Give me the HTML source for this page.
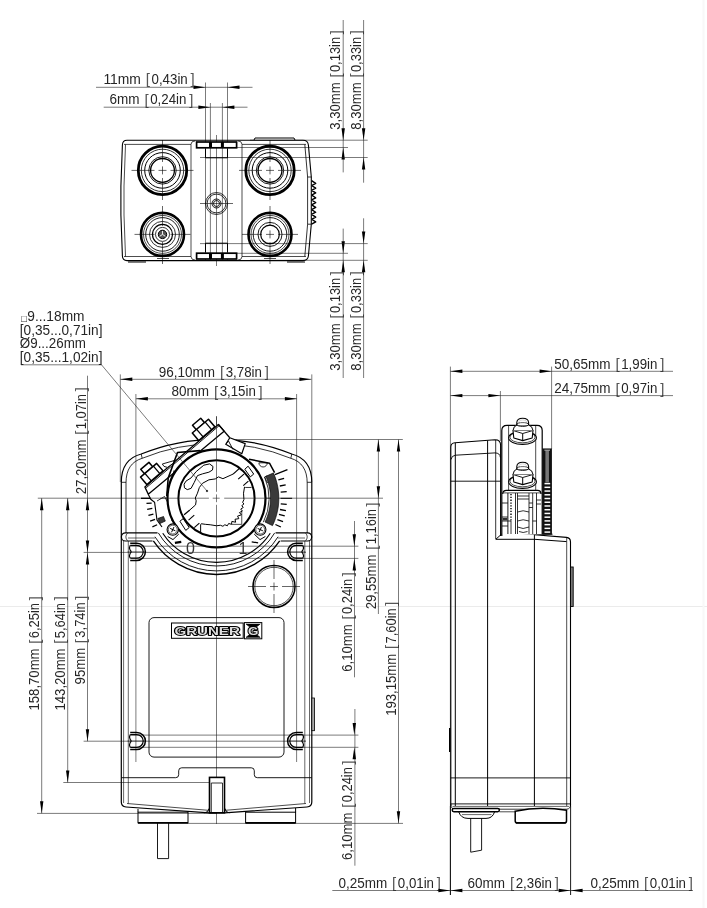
<!DOCTYPE html>
<html lang="en">
<head>
<meta charset="utf-8">
<title>Dimensional drawing</title>
<style>
html,body{margin:0;padding:0;background:#fff;}
body{width:707px;height:908px;overflow:hidden;}
svg{display:block;font-family:"Liberation Sans",Arial,sans-serif;filter:grayscale(1);}
svg line, svg path, svg circle, svg rect, svg ellipse{stroke-linecap:butt;}
</style>
</head>
<body>
<svg width="707" height="908" viewBox="0 0 707 908">
<rect x="0" y="0" width="707" height="908" fill="#fff"/>
<line x1="0" y1="606.5" x2="707" y2="606.5" stroke="#ebebeb" stroke-width="1"/>
<line x1="703.5" y1="0" x2="703.5" y2="908" stroke="#f8f8f8" stroke-width="2"/>
<g transform="translate(103.40 83.70)" font-size="14"><text x="0" y="0" fill="#262626" textLength="37.53" lengthAdjust="spacingAndGlyphs">11mm</text><text x="42.43" y="0.6" fill="#555" font-size="15">[</text><text x="48.13" y="0" fill="#262626" textLength="36.23" lengthAdjust="spacingAndGlyphs">0,43in</text><text x="87.06" y="0.6" fill="#555" font-size="15">]</text></g>
<line x1="96.00" y1="87.30" x2="252.50" y2="87.30" stroke="#222" stroke-width="0.6" />
<polygon points="205.50,87.30 193.50,85.60 193.50,89.00" fill="#000"/>
<polygon points="227.50,87.30 239.50,85.60 239.50,89.00" fill="#000"/>
<g transform="translate(109.60 103.90)" font-size="14"><text x="0" y="0" fill="#262626" textLength="30.02" lengthAdjust="spacingAndGlyphs">6mm</text><text x="34.92" y="0.6" fill="#555" font-size="15">[</text><text x="40.62" y="0" fill="#262626" textLength="36.23" lengthAdjust="spacingAndGlyphs">0,24in</text><text x="79.55" y="0.6" fill="#555" font-size="15">]</text></g>
<line x1="103.70" y1="107.20" x2="247.50" y2="107.20" stroke="#222" stroke-width="0.6" />
<polygon points="210.40,107.20 198.40,105.50 198.40,108.90" fill="#000"/>
<polygon points="222.40,107.20 234.40,105.50 234.40,108.90" fill="#000"/>
<line x1="205.50" y1="82.50" x2="205.50" y2="260.00" stroke="#222" stroke-width="0.6" />
<line x1="227.50" y1="82.50" x2="227.50" y2="260.00" stroke="#222" stroke-width="0.6" />
<line x1="210.40" y1="103.00" x2="210.40" y2="260.00" stroke="#222" stroke-width="0.6" />
<line x1="222.40" y1="103.00" x2="222.40" y2="260.00" stroke="#222" stroke-width="0.6" />
<line x1="216.50" y1="135.00" x2="216.50" y2="266.00" stroke="#222" stroke-width="0.6" />
<g transform="translate(340.20 129.80) rotate(-90)" font-size="14"><text x="0" y="0" fill="#262626" textLength="47.43" lengthAdjust="spacingAndGlyphs">3,30mm</text><text x="52.19" y="0.6" fill="#555" font-size="15">[</text><text x="57.73" y="0" fill="#262626" textLength="35.21" lengthAdjust="spacingAndGlyphs">0,13in</text><text x="95.57" y="0.6" fill="#555" font-size="15">]</text></g>
<g transform="translate(360.70 129.80) rotate(-90)" font-size="14"><text x="0" y="0" fill="#262626" textLength="47.43" lengthAdjust="spacingAndGlyphs">8,30mm</text><text x="52.19" y="0.6" fill="#555" font-size="15">[</text><text x="57.73" y="0" fill="#262626" textLength="35.21" lengthAdjust="spacingAndGlyphs">0,33in</text><text x="95.57" y="0.6" fill="#555" font-size="15">]</text></g>
<g transform="translate(340.30 370.80) rotate(-90)" font-size="14"><text x="0" y="0" fill="#262626" textLength="47.43" lengthAdjust="spacingAndGlyphs">3,30mm</text><text x="52.19" y="0.6" fill="#555" font-size="15">[</text><text x="57.73" y="0" fill="#262626" textLength="35.21" lengthAdjust="spacingAndGlyphs">0,13in</text><text x="95.57" y="0.6" fill="#555" font-size="15">]</text></g>
<g transform="translate(360.80 370.80) rotate(-90)" font-size="14"><text x="0" y="0" fill="#262626" textLength="47.43" lengthAdjust="spacingAndGlyphs">8,30mm</text><text x="52.19" y="0.6" fill="#555" font-size="15">[</text><text x="57.73" y="0" fill="#262626" textLength="35.21" lengthAdjust="spacingAndGlyphs">0,33in</text><text x="95.57" y="0.6" fill="#555" font-size="15">]</text></g>
<line x1="343.20" y1="20.00" x2="343.20" y2="172.40" stroke="#222" stroke-width="0.6" />
<line x1="363.60" y1="20.00" x2="363.60" y2="182.70" stroke="#222" stroke-width="0.6" />
<line x1="343.20" y1="228.60" x2="343.20" y2="378.00" stroke="#222" stroke-width="0.6" />
<line x1="363.60" y1="218.30" x2="363.60" y2="378.00" stroke="#222" stroke-width="0.6" />
<polygon points="343.20,140.20 341.50,128.20 344.90,128.20" fill="#000"/>
<polygon points="343.20,147.50 341.50,159.50 344.90,159.50" fill="#000"/>
<polygon points="363.60,140.20 361.90,128.20 365.30,128.20" fill="#000"/>
<polygon points="363.60,157.50 361.90,169.50 365.30,169.50" fill="#000"/>
<polygon points="343.20,253.30 341.50,241.30 344.90,241.30" fill="#000"/>
<polygon points="343.20,260.30 341.50,272.30 344.90,272.30" fill="#000"/>
<polygon points="363.60,243.60 361.90,231.60 365.30,231.60" fill="#000"/>
<polygon points="363.60,260.30 361.90,272.30 365.30,272.30" fill="#000"/>
<line x1="250.00" y1="140.20" x2="367.70" y2="140.20" stroke="#222" stroke-width="0.6" />
<line x1="200.00" y1="147.50" x2="348.00" y2="147.50" stroke="#222" stroke-width="0.6" />
<line x1="200.00" y1="157.50" x2="367.70" y2="157.50" stroke="#222" stroke-width="0.6" />
<line x1="200.00" y1="243.60" x2="367.70" y2="243.60" stroke="#222" stroke-width="0.6" />
<line x1="200.00" y1="253.30" x2="348.00" y2="253.30" stroke="#222" stroke-width="0.6" />
<line x1="250.00" y1="260.30" x2="367.70" y2="260.30" stroke="#222" stroke-width="0.6" />
<path d="M127,140.3 L303,140.3 Q307.8,140.3 308.4,145 L311.3,177 L311.3,224.2 L308.4,256 Q307.8,260.6 303,260.6 L127,260.6 Q122.6,260.6 122.4,256 L120.9,215 L120.9,186 L122.4,145 Q122.6,140.3 127,140.3 Z" fill="none" stroke="#000" stroke-width="1.1" />
<path d="M125.5,144.5 L124,186 L124,215 L125.5,256.5" fill="none" stroke="#000" stroke-width="0.7" />
<path d="M304.8,144.5 L307.6,177 L307.6,224.2 L304.8,256.5" fill="none" stroke="#000" stroke-width="0.8" />
<line x1="307.60" y1="177.00" x2="311.30" y2="177.00" stroke="#000" stroke-width="0.8" />
<line x1="307.60" y1="224.20" x2="311.30" y2="224.20" stroke="#000" stroke-width="0.8" />
<line x1="124.00" y1="144.40" x2="191.00" y2="144.40" stroke="#000" stroke-width="0.7" />
<line x1="242.00" y1="144.40" x2="306.00" y2="144.40" stroke="#000" stroke-width="0.7" />
<line x1="124.00" y1="256.50" x2="191.00" y2="256.50" stroke="#000" stroke-width="0.7" />
<line x1="242.00" y1="256.50" x2="306.00" y2="256.50" stroke="#000" stroke-width="0.7" />
<line x1="191.00" y1="144.40" x2="191.00" y2="256.50" stroke="#000" stroke-width="0.7" />
<line x1="242.00" y1="144.40" x2="242.00" y2="256.50" stroke="#000" stroke-width="0.7" />
<path d="M191,144.4 Q191,141 195,141 M242,144.4 Q242,141 238,141 M191,256.5 Q191,260 195,260 M242,256.5 Q242,260 238,260" fill="none" stroke="#000" stroke-width="0.7" />
<path d="M254,140 L255,138 L294,138 L295,140" fill="none" stroke="#000" stroke-width="1.0" />
<line x1="128.00" y1="262.00" x2="146.00" y2="262.00" stroke="#000" stroke-width="1.0" />
<line x1="287.00" y1="262.00" x2="305.00" y2="262.00" stroke="#000" stroke-width="1.0" />
<line x1="157.00" y1="258.50" x2="169.00" y2="258.50" stroke="#000" stroke-width="0.7" />
<line x1="264.00" y1="258.50" x2="276.00" y2="258.50" stroke="#000" stroke-width="0.7" />
<circle cx="162.50" cy="170.40" r="24.20" fill="none" stroke="#000" stroke-width="2.8"/>
<circle cx="162.50" cy="170.40" r="21.20" fill="none" stroke="#000" stroke-width="0.8"/>
<circle cx="162.50" cy="170.40" r="17.80" fill="none" stroke="#000" stroke-width="1.0"/>
<circle cx="162.50" cy="170.40" r="13.70" fill="none" stroke="#000" stroke-width="0.9"/>
<circle cx="162.50" cy="170.40" r="11.90" fill="none" stroke="#000" stroke-width="1.3"/>
<line x1="131.50" y1="170.40" x2="154.50" y2="170.40" stroke="#000" stroke-width="0.6" />
<line x1="170.50" y1="170.40" x2="193.50" y2="170.40" stroke="#000" stroke-width="0.6" />
<line x1="158.50" y1="170.40" x2="166.50" y2="170.40" stroke="#000" stroke-width="0.6" />
<line x1="162.50" y1="140.00" x2="162.50" y2="162.00" stroke="#000" stroke-width="0.6" />
<line x1="162.50" y1="166.40" x2="162.50" y2="174.40" stroke="#000" stroke-width="0.6" />
<line x1="162.50" y1="178.00" x2="162.50" y2="200.00" stroke="#000" stroke-width="0.6" />
<circle cx="270.00" cy="170.40" r="24.20" fill="none" stroke="#000" stroke-width="2.8"/>
<circle cx="270.00" cy="170.40" r="21.20" fill="none" stroke="#000" stroke-width="0.8"/>
<circle cx="270.00" cy="170.40" r="17.80" fill="none" stroke="#000" stroke-width="1.0"/>
<circle cx="270.00" cy="170.40" r="13.70" fill="none" stroke="#000" stroke-width="0.9"/>
<circle cx="270.00" cy="170.40" r="11.90" fill="none" stroke="#000" stroke-width="1.3"/>
<line x1="239.00" y1="170.40" x2="262.00" y2="170.40" stroke="#000" stroke-width="0.6" />
<line x1="278.00" y1="170.40" x2="301.00" y2="170.40" stroke="#000" stroke-width="0.6" />
<line x1="266.00" y1="170.40" x2="274.00" y2="170.40" stroke="#000" stroke-width="0.6" />
<line x1="270.00" y1="140.00" x2="270.00" y2="162.00" stroke="#000" stroke-width="0.6" />
<line x1="270.00" y1="166.40" x2="270.00" y2="174.40" stroke="#000" stroke-width="0.6" />
<line x1="270.00" y1="178.00" x2="270.00" y2="200.00" stroke="#000" stroke-width="0.6" />
<circle cx="162.50" cy="234.40" r="21.50" fill="none" stroke="#000" stroke-width="2.6"/>
<circle cx="162.50" cy="234.40" r="19.00" fill="none" stroke="#000" stroke-width="0.7"/>
<circle cx="162.50" cy="234.40" r="16.80" fill="none" stroke="#000" stroke-width="0.9"/>
<line x1="134.50" y1="234.40" x2="154.50" y2="234.40" stroke="#000" stroke-width="0.6" />
<line x1="170.50" y1="234.40" x2="190.50" y2="234.40" stroke="#000" stroke-width="0.6" />
<line x1="162.50" y1="206.00" x2="162.50" y2="226.00" stroke="#000" stroke-width="0.6" />
<line x1="162.50" y1="242.00" x2="162.50" y2="264.00" stroke="#000" stroke-width="0.6" />
<circle cx="270.00" cy="234.40" r="21.50" fill="none" stroke="#000" stroke-width="2.6"/>
<circle cx="270.00" cy="234.40" r="19.00" fill="none" stroke="#000" stroke-width="0.7"/>
<circle cx="270.00" cy="234.40" r="16.80" fill="none" stroke="#000" stroke-width="0.9"/>
<line x1="242.00" y1="234.40" x2="262.00" y2="234.40" stroke="#000" stroke-width="0.6" />
<line x1="278.00" y1="234.40" x2="298.00" y2="234.40" stroke="#000" stroke-width="0.6" />
<line x1="270.00" y1="206.00" x2="270.00" y2="226.00" stroke="#000" stroke-width="0.6" />
<line x1="270.00" y1="242.00" x2="270.00" y2="264.00" stroke="#000" stroke-width="0.6" />
<circle cx="162.50" cy="234.40" r="13.00" fill="none" stroke="#000" stroke-width="0.8"/>
<circle cx="162.50" cy="234.40" r="10.00" fill="none" stroke="#000" stroke-width="1.2"/>
<circle cx="162.50" cy="234.40" r="7.00" fill="none" stroke="#000" stroke-width="0.8"/>
<circle cx="162.50" cy="234.40" r="4.20" fill="#555" stroke="#000" stroke-width="1.0"/>
<path d="M162.5,234.4 L162.5,231 M162.5,234.4 L165.3,236.3 M162.5,234.4 L159.7,236.3" fill="none" stroke="#fff" stroke-width="0.9" />
<circle cx="270.00" cy="234.40" r="12.00" fill="none" stroke="#000" stroke-width="0.9"/>
<circle cx="270.00" cy="234.40" r="9.30" fill="none" stroke="#000" stroke-width="1.2"/>
<line x1="266.00" y1="234.40" x2="274.00" y2="234.40" stroke="#000" stroke-width="0.6" />
<line x1="270.00" y1="230.40" x2="270.00" y2="238.40" stroke="#000" stroke-width="0.6" />
<circle cx="216.50" cy="203.50" r="11.00" fill="none" stroke="#000" stroke-width="0.8"/>
<circle cx="216.50" cy="203.50" r="9.40" fill="none" stroke="#000" stroke-width="0.8"/>
<circle cx="216.50" cy="203.50" r="4.50" fill="none" stroke="#000" stroke-width="0.9"/>
<circle cx="216.50" cy="203.50" r="3.00" fill="none" stroke="#000" stroke-width="0.9"/>
<line x1="200.00" y1="203.50" x2="233.00" y2="203.50" stroke="#000" stroke-width="0.6" />
<rect x="196.60" y="142.00" width="40.00" height="5.80" rx="0" fill="#fff" stroke="#000" stroke-width="1.7"/>
<rect x="209.0" y="142.0" width="3" height="5.80" fill="#000"/>
<rect x="220.9" y="142.0" width="3" height="5.80" fill="#000"/>
<path d="M205.5,148.6 L205.5,157.8 L227.5,157.8 L227.5,148.6" fill="none" stroke="#000" stroke-width="1.0" />
<rect x="196.60" y="253.20" width="40.00" height="5.80" rx="0" fill="#fff" stroke="#000" stroke-width="1.7"/>
<rect x="209.0" y="253.2" width="3" height="5.80" fill="#000"/>
<rect x="220.9" y="253.2" width="3" height="5.80" fill="#000"/>
<path d="M205.5,252.4 L205.5,243.2 L227.5,243.2 L227.5,252.4" fill="none" stroke="#000" stroke-width="1.0" />
<path d="M311.6,180.70 L315.7,183.30 L311.6,185.52 M311.6,185.52 L315.7,188.12 L311.6,190.34 M311.6,190.34 L315.7,192.94 L311.6,195.16 M311.6,195.16 L315.7,197.76 L311.6,199.98 M311.6,199.98 L315.7,202.58 L311.6,204.80 M311.6,204.80 L315.7,207.40 L311.6,209.62 M311.6,209.62 L315.7,212.22 L311.6,214.44 M311.6,214.44 L315.7,217.04 L311.6,219.26 M311.6,219.26 L315.7,221.86 L311.6,224.08 " fill="none" stroke="#000" stroke-width="1.4" stroke-linejoin="round"/>
<text x="20.4" y="320.9" font-size="7.6" fill="#333" font-family="DejaVu Sans, sans-serif">□</text>
<text x="27.3" y="320.7" font-size="14" fill="#262626" textLength="57.2" lengthAdjust="spacingAndGlyphs">9...18mm</text>
<text x="19.8" y="334.8" font-size="14" fill="#262626" textLength="82.7" lengthAdjust="spacingAndGlyphs">[0,35...0,71in]</text>
<text x="19.8" y="348.4" font-size="14" fill="#262626" textLength="66.2" lengthAdjust="spacingAndGlyphs">Ø9...26mm</text>
<text x="19.8" y="362.3" font-size="14" fill="#262626" textLength="82.7" lengthAdjust="spacingAndGlyphs">[0,35...1,02in]</text>
<g transform="translate(158.80 376.60)" font-size="14"><text x="0" y="0" fill="#262626" textLength="56.31" lengthAdjust="spacingAndGlyphs">96,10mm</text><text x="61.21" y="0.6" fill="#555" font-size="15">[</text><text x="66.91" y="0" fill="#262626" textLength="36.23" lengthAdjust="spacingAndGlyphs">3,78in</text><text x="105.84" y="0.6" fill="#555" font-size="15">]</text></g>
<line x1="120.30" y1="379.30" x2="311.40" y2="379.30" stroke="#222" stroke-width="0.6" />
<polygon points="120.30,379.30 132.30,377.60 132.30,381.00" fill="#000"/>
<polygon points="311.40,379.30 299.40,377.60 299.40,381.00" fill="#000"/>
<g transform="translate(171.50 396.30)" font-size="14"><text x="0" y="0" fill="#262626" textLength="37.53" lengthAdjust="spacingAndGlyphs">80mm</text><text x="42.43" y="0.6" fill="#555" font-size="15">[</text><text x="48.13" y="0" fill="#262626" textLength="36.23" lengthAdjust="spacingAndGlyphs">3,15in</text><text x="87.06" y="0.6" fill="#555" font-size="15">]</text></g>
<line x1="135.90" y1="398.80" x2="296.90" y2="398.80" stroke="#222" stroke-width="0.6" />
<polygon points="135.90,398.80 147.90,397.10 147.90,400.50" fill="#000"/>
<polygon points="296.90,398.80 284.90,397.10 284.90,400.50" fill="#000"/>
<line x1="120.30" y1="374.40" x2="120.30" y2="482.00" stroke="#222" stroke-width="0.6" />
<line x1="311.80" y1="374.40" x2="311.80" y2="482.00" stroke="#222" stroke-width="0.6" />
<line x1="135.90" y1="394.00" x2="135.90" y2="762.00" stroke="#222" stroke-width="0.6" />
<line x1="296.60" y1="394.00" x2="296.60" y2="762.00" stroke="#222" stroke-width="0.6" />
<g transform="translate(85.50 494.20) rotate(-90)" font-size="14"><text x="0" y="0" fill="#262626" textLength="54.73" lengthAdjust="spacingAndGlyphs">27,20mm</text><text x="59.50" y="0.6" fill="#555" font-size="15">[</text><text x="65.04" y="0" fill="#262626" textLength="35.21" lengthAdjust="spacingAndGlyphs">1,07in</text><text x="102.88" y="0.6" fill="#555" font-size="15">]</text></g>
<line x1="87.50" y1="375.70" x2="87.50" y2="741.20" stroke="#222" stroke-width="0.6" />
<polygon points="87.50,498.20 85.80,510.20 89.20,510.20" fill="#000"/>
<g transform="translate(39.00 710.50) rotate(-90)" font-size="14"><text x="0" y="0" fill="#262626" textLength="62.03" lengthAdjust="spacingAndGlyphs">158,70mm</text><text x="66.80" y="0.6" fill="#555" font-size="15">[</text><text x="72.34" y="0" fill="#262626" textLength="35.21" lengthAdjust="spacingAndGlyphs">6,25in</text><text x="110.18" y="0.6" fill="#555" font-size="15">]</text></g>
<line x1="41.70" y1="498.20" x2="41.70" y2="813.30" stroke="#222" stroke-width="0.6" />
<polygon points="41.70,498.20 40.00,510.20 43.40,510.20" fill="#000"/>
<polygon points="41.70,813.30 40.00,801.30 43.40,801.30" fill="#000"/>
<g transform="translate(64.60 710.50) rotate(-90)" font-size="14"><text x="0" y="0" fill="#262626" textLength="62.03" lengthAdjust="spacingAndGlyphs">143,20mm</text><text x="66.80" y="0.6" fill="#555" font-size="15">[</text><text x="72.34" y="0" fill="#262626" textLength="35.21" lengthAdjust="spacingAndGlyphs">5,64in</text><text x="110.18" y="0.6" fill="#555" font-size="15">]</text></g>
<line x1="67.70" y1="498.20" x2="67.70" y2="782.50" stroke="#222" stroke-width="0.6" />
<polygon points="67.70,498.20 66.00,510.20 69.40,510.20" fill="#000"/>
<polygon points="67.70,782.50 66.00,770.50 69.40,770.50" fill="#000"/>
<g transform="translate(85.10 684.40) rotate(-90)" font-size="14"><text x="0" y="0" fill="#262626" textLength="36.48" lengthAdjust="spacingAndGlyphs">95mm</text><text x="41.24" y="0.6" fill="#555" font-size="15">[</text><text x="46.78" y="0" fill="#262626" textLength="35.21" lengthAdjust="spacingAndGlyphs">3,74in</text><text x="84.62" y="0.6" fill="#555" font-size="15">]</text></g>
<polygon points="87.50,552.50 85.80,540.50 89.20,540.50" fill="#000"/>
<polygon points="87.50,552.50 85.80,564.50 89.20,564.50" fill="#000"/>
<polygon points="87.50,741.20 85.80,729.20 89.20,729.20" fill="#000"/>
<line x1="37.80" y1="498.20" x2="383.00" y2="498.20" stroke="#222" stroke-width="0.6" />
<line x1="83.60" y1="552.40" x2="306.00" y2="552.40" stroke="#222" stroke-width="0.6" />
<line x1="83.60" y1="741.20" x2="306.00" y2="741.20" stroke="#222" stroke-width="0.6" />
<line x1="63.30" y1="782.50" x2="217.00" y2="782.50" stroke="#222" stroke-width="0.6" />
<line x1="37.00" y1="813.40" x2="217.00" y2="813.40" stroke="#222" stroke-width="0.6" />
<g transform="translate(395.80 715.80) rotate(-90)" font-size="14"><text x="0" y="0" fill="#262626" textLength="62.03" lengthAdjust="spacingAndGlyphs">193,15mm</text><text x="66.80" y="0.6" fill="#555" font-size="15">[</text><text x="72.34" y="0" fill="#262626" textLength="35.21" lengthAdjust="spacingAndGlyphs">7,60in</text><text x="110.18" y="0.6" fill="#555" font-size="15">]</text></g>
<line x1="398.50" y1="439.50" x2="398.50" y2="823.30" stroke="#222" stroke-width="0.6" />
<polygon points="398.50,439.50 396.80,451.50 400.20,451.50" fill="#000"/>
<polygon points="398.50,823.30 396.80,811.30 400.20,811.30" fill="#000"/>
<g transform="translate(376.00 609.30) rotate(-90)" font-size="14"><text x="0" y="0" fill="#262626" textLength="54.73" lengthAdjust="spacingAndGlyphs">29,55mm</text><text x="59.50" y="0.6" fill="#555" font-size="15">[</text><text x="65.04" y="0" fill="#262626" textLength="35.21" lengthAdjust="spacingAndGlyphs">1,16in</text><text x="102.88" y="0.6" fill="#555" font-size="15">]</text></g>
<line x1="378.40" y1="439.50" x2="378.40" y2="614.00" stroke="#222" stroke-width="0.6" />
<polygon points="378.40,439.50 376.70,451.50 380.10,451.50" fill="#000"/>
<polygon points="378.40,498.20 376.70,486.20 380.10,486.20" fill="#000"/>
<g transform="translate(352.20 671.80) rotate(-90)" font-size="14"><text x="0" y="0" fill="#262626" textLength="47.43" lengthAdjust="spacingAndGlyphs">6,10mm</text><text x="52.19" y="0.6" fill="#555" font-size="15">[</text><text x="57.73" y="0" fill="#262626" textLength="35.21" lengthAdjust="spacingAndGlyphs">0,24in</text><text x="95.57" y="0.6" fill="#555" font-size="15">]</text></g>
<line x1="354.50" y1="521.00" x2="354.50" y2="677.30" stroke="#222" stroke-width="0.6" />
<polygon points="354.30,546.20 352.60,534.20 356.00,534.20" fill="#000"/>
<polygon points="354.30,558.40 352.60,570.40 356.00,570.40" fill="#000"/>
<g transform="translate(351.90 860.00) rotate(-90)" font-size="14"><text x="0" y="0" fill="#262626" textLength="47.43" lengthAdjust="spacingAndGlyphs">6,10mm</text><text x="52.19" y="0.6" fill="#555" font-size="15">[</text><text x="57.73" y="0" fill="#262626" textLength="35.21" lengthAdjust="spacingAndGlyphs">0,24in</text><text x="95.57" y="0.6" fill="#555" font-size="15">]</text></g>
<line x1="354.90" y1="709.00" x2="354.90" y2="865.70" stroke="#222" stroke-width="0.6" />
<polygon points="354.30,735.10 352.60,723.10 356.00,723.10" fill="#000"/>
<polygon points="354.30,747.30 352.60,759.30 356.00,759.30" fill="#000"/>
<line x1="218.00" y1="439.50" x2="402.80" y2="439.50" stroke="#222" stroke-width="0.6" />
<line x1="131.00" y1="546.20" x2="358.40" y2="546.20" stroke="#222" stroke-width="0.6" />
<line x1="131.00" y1="558.40" x2="358.40" y2="558.40" stroke="#222" stroke-width="0.6" />
<line x1="131.00" y1="735.10" x2="358.40" y2="735.10" stroke="#222" stroke-width="0.6" />
<line x1="131.00" y1="747.30" x2="358.40" y2="747.30" stroke="#222" stroke-width="0.6" />
<line x1="188.00" y1="823.40" x2="403.00" y2="823.40" stroke="#222" stroke-width="0.6" />
<line x1="216.50" y1="416.30" x2="216.50" y2="824.00" stroke="#222" stroke-width="0.6" />
<path d="M121.3,800 L121.3,482.3 C121.3,466 128,457.5 141.2,454 A200.0,200.0 0 0 1 291.8,454 C305,457.5 311.8,466 311.8,482.3 L311.8,802 Q311.8,806.6 307,807 L224.6,812.8 L209.3,812.8 L126,807 Q121.3,806.6 121.3,802 Z" fill="none" stroke="#000" stroke-width="1.2" />
<path d="M126,533 L126,483 C126,469.5 131.5,461.5 142.2,458.3 A195.7,195.7 0 0 1 290.8,458.3 C301.5,461.5 307.2,469.5 307.2,483 L307.2,533" fill="none" stroke="#000" stroke-width="0.8" />
<line x1="121.30" y1="482.30" x2="126.00" y2="482.30" stroke="#000" stroke-width="0.8" />
<line x1="307.20" y1="482.30" x2="311.80" y2="482.30" stroke="#000" stroke-width="0.8" />
<line x1="141.20" y1="454.00" x2="142.20" y2="458.30" stroke="#000" stroke-width="0.8" />
<line x1="291.80" y1="454.00" x2="290.80" y2="458.30" stroke="#000" stroke-width="0.8" />
<line x1="123.60" y1="541.00" x2="123.60" y2="803.00" stroke="#000" stroke-width="0.6" />
<line x1="128.30" y1="541.00" x2="128.30" y2="803.50" stroke="#000" stroke-width="0.6" />
<line x1="309.50" y1="541.00" x2="309.50" y2="803.00" stroke="#000" stroke-width="0.6" />
<line x1="304.80" y1="541.00" x2="304.80" y2="803.50" stroke="#000" stroke-width="0.6" />
<path d="M121.3,777.7 L175.7,777.7 Q178.7,777.7 178.7,774.7 L178.7,770.8 Q178.7,767.8 181.7,767.8 L251.3,767.8 Q254.3,767.8 254.3,770.8 L254.3,774.7 Q254.3,777.7 257.3,777.7 L311.8,777.7" fill="none" stroke="#000" stroke-width="0.9" />
<path d="M127,803.5 L208.4,810.3 M225.4,810.3 L306,803.5" fill="none" stroke="#000" stroke-width="0.7" />
<rect x="209.50" y="777.40" width="15.00" height="35.40" rx="0" fill="#fff" stroke="#000" stroke-width="1.6"/>
<path d="M211.3,812.8 L211.3,783 L222.5,783 L222.5,812.8" fill="none" stroke="#000" stroke-width="0.8" />
<path d="M204.5,812.8 Q208.7,812.5 209,808.5 M229.4,812.8 Q225.2,812.5 225,808.5" fill="none" stroke="#000" stroke-width="1.0" />
<rect x="138.00" y="812.20" width="50.00" height="10.60" rx="0" fill="none" stroke="#000" stroke-width="1.0"/>
<line x1="138.00" y1="822.80" x2="188.00" y2="822.80" stroke="#000" stroke-width="1.7" />
<rect x="245.60" y="812.20" width="50.00" height="10.60" rx="0" fill="none" stroke="#000" stroke-width="1.0"/>
<line x1="245.60" y1="822.80" x2="295.60" y2="822.80" stroke="#000" stroke-width="1.7" />
<path d="M138,812.2 L138,809 M188,812.2 L188,811.3 M245.6,812.2 L245.6,811.3 M295.6,812.2 L295.6,808" fill="none" stroke="#000" stroke-width="1.0" />
<path d="M157.5,822.8 L157.5,858.6 L168.6,858.6 L168.6,822.8" fill="none" stroke="#000" stroke-width="0.9" />
<rect x="149.00" y="617.60" width="135.00" height="139.50" rx="5" fill="none" stroke="#000" stroke-width="0.9"/>
<rect x="171.50" y="623.00" width="71.70" height="15.30" rx="0" fill="none" stroke="#000" stroke-width="1.0"/>
<text x="174.4" y="634.9" font-size="11" font-weight="bold" textLength="65.4" lengthAdjust="spacingAndGlyphs" fill="#ddd" stroke="#000" stroke-width="1.9" stroke-linejoin="round" paint-order="stroke">GRUNER</text>
<rect x="244.40" y="622.60" width="17.40" height="16.20" rx="0" fill="none" stroke="#000" stroke-width="1.0"/>
<path d="M246,624 L260.2,624 L255.5,627.6 L250.7,627.6 Z M246,637.4 L260.2,637.4 L255.5,633.8 L250.7,633.8 Z" fill="#000" stroke="#000" stroke-width="0.4" />
<path d="M246,624 L250.7,627.6 M260.2,624 L255.5,627.6 M246,637.4 L250.7,633.8 M260.2,637.4 L255.5,633.8" fill="none" stroke="#000" stroke-width="0.5" />
<text x="248" y="634.9" font-size="11" font-weight="bold" textLength="10.4" lengthAdjust="spacingAndGlyphs" fill="#ddd" stroke="#000" stroke-width="1.9" stroke-linejoin="round" paint-order="stroke">G</text>
<circle cx="274.00" cy="586.50" r="21.00" fill="none" stroke="#000" stroke-width="1.5"/>
<circle cx="274.00" cy="586.50" r="19.20" fill="none" stroke="#000" stroke-width="0.7"/>
<line x1="248.00" y1="586.50" x2="266.00" y2="586.50" stroke="#000" stroke-width="0.6" />
<line x1="270.00" y1="586.50" x2="278.00" y2="586.50" stroke="#000" stroke-width="0.6" />
<line x1="282.00" y1="586.50" x2="300.00" y2="586.50" stroke="#000" stroke-width="0.6" />
<line x1="274.00" y1="560.00" x2="274.00" y2="579.00" stroke="#000" stroke-width="0.6" />
<line x1="274.00" y1="582.50" x2="274.00" y2="590.50" stroke="#000" stroke-width="0.6" />
<line x1="274.00" y1="594.00" x2="274.00" y2="613.00" stroke="#000" stroke-width="0.6" />
<rect x="311.80" y="698.00" width="2.80" height="32.70" rx="0" fill="#aaa" stroke="#000" stroke-width="0.8"/>
<path d="M130.20,543.20 L136.80,543.20 A8.6,8.6 0 0 1 136.80,560.40 L130.20,560.40" fill="none" stroke="#000" stroke-width="1.5" />
<path d="M130.20,545.40 L136.80,545.40 A6.4,6.4 0 0 1 136.80,558.20 L130.20,558.20" fill="none" stroke="#000" stroke-width="1.2" />
<path d="M130.20,545.40 Q128.70,547.80 130.20,550.30 Q132.00,551.80 130.20,553.30 Q128.70,555.80 130.20,558.20" fill="none" stroke="#000" stroke-width="1.2" />
<line x1="127.50" y1="551.80" x2="145.50" y2="551.80" stroke="#000" stroke-width="0.5" />
<path d="M130.20,732.40 L136.80,732.40 A8.6,8.6 0 0 1 136.80,749.60 L130.20,749.60" fill="none" stroke="#000" stroke-width="1.5" />
<path d="M130.20,734.60 L136.80,734.60 A6.4,6.4 0 0 1 136.80,747.40 L130.20,747.40" fill="none" stroke="#000" stroke-width="1.2" />
<path d="M130.20,734.60 Q128.70,737.00 130.20,739.50 Q132.00,741.00 130.20,742.50 Q128.70,745.00 130.20,747.40" fill="none" stroke="#000" stroke-width="1.2" />
<line x1="127.50" y1="741.00" x2="145.50" y2="741.00" stroke="#000" stroke-width="0.5" />
<path d="M302.80,543.20 L296.20,543.20 A8.6,8.6 0 0 0 296.20,560.40 L302.80,560.40" fill="none" stroke="#000" stroke-width="1.5" />
<path d="M302.80,545.40 L296.20,545.40 A6.4,6.4 0 0 0 296.20,558.20 L302.80,558.20" fill="none" stroke="#000" stroke-width="1.2" />
<path d="M302.80,545.40 Q304.30,547.80 302.80,550.30 Q301.00,551.80 302.80,553.30 Q304.30,555.80 302.80,558.20" fill="none" stroke="#000" stroke-width="1.2" />
<line x1="287.50" y1="551.80" x2="305.50" y2="551.80" stroke="#000" stroke-width="0.5" />
<path d="M302.80,732.40 L296.20,732.40 A8.6,8.6 0 0 0 296.20,749.60 L302.80,749.60" fill="none" stroke="#000" stroke-width="1.5" />
<path d="M302.80,734.60 L296.20,734.60 A6.4,6.4 0 0 0 296.20,747.40 L302.80,747.40" fill="none" stroke="#000" stroke-width="1.2" />
<path d="M302.80,734.60 Q304.30,737.00 302.80,739.50 Q301.00,741.00 302.80,742.50 Q304.30,745.00 302.80,747.40" fill="none" stroke="#000" stroke-width="1.2" />
<line x1="287.50" y1="741.00" x2="305.50" y2="741.00" stroke="#000" stroke-width="0.5" />
<path d="M157.5,532.8 L125.5,532.8 A4.1,4.1 0 0 0 125.5,541 L152.5,541" fill="none" stroke="#000" stroke-width="1.2" />
<path d="M275.6,532.8 L307.6,532.8 A4.1,4.1 0 0 1 307.6,541 L280.6,541" fill="none" stroke="#000" stroke-width="1.2" />
<path d="M128,538 L155,538 M278,538 L305,538" fill="none" stroke="#000" stroke-width="0.6" />
<path d="M127.5,533.2 A5,5 0 0 0 127.5,540.6" fill="none" stroke="#000" stroke-width="0.7" />
<path d="M305.6,533.2 A5,5 0 0 1 305.6,540.6" fill="none" stroke="#000" stroke-width="0.7" />
<path d="M270.26,533.21 A64.1,64.1 0 0 1 162.74,533.21" fill="none" stroke="#000" stroke-width="1.2" />
<path d="M274.71,532.86 A67.7,67.7 0 0 1 158.29,532.86" fill="none" stroke="#000" stroke-width="0.9" />
<path d="M278.07,536.77 A72.6,72.6 0 0 1 154.93,536.77" fill="none" stroke="#000" stroke-width="0.9" />
<path d="M279.67,540.91 A76.2,76.2 0 0 1 153.33,540.91" fill="none" stroke="#000" stroke-width="1.3" />
<polygon points="172.28,463.60 218.35,424.39 229.76,437.79 245.2,443.6 241.8,453.8 230,470 190,470 178,453" fill="#fff"/>
<path d="M144.86,486.93 L218.35,424.39 L224.12,431.16 L148.25,494.15 Z" fill="#fff" stroke="#000" stroke-width="1.3" stroke-linejoin="round"/>
<path d="M146.21,487.75 L219.32,425.53" fill="none" stroke="#000" stroke-width="0.9" stroke-linejoin="round"/>
<path d="M218.35,424.39 L229.76,437.79" fill="none" stroke="#000" stroke-width="1.3" stroke-linejoin="round"/>
<g transform="translate(155.25 478.08) rotate(-40.4)" fill="#fff" stroke="#000" stroke-linejoin="round">
<rect x="-5.4" y="-16.1" width="10.8" height="6" stroke-width="1.5"/>
<rect x="-10.6" y="-10.3" width="21.2" height="9.9" stroke-width="1.5"/>
<line x1="-4.85" y1="-10.3" x2="-4.85" y2="-0.4" stroke-width="1.3"/><line x1="6.35" y1="-10.3" x2="6.35" y2="-0.4" stroke-width="1.3"/>
</g>
<g transform="translate(207.04 434.01) rotate(-40.4)" fill="#fff" stroke="#000" stroke-linejoin="round">
<rect x="-5.4" y="-16.1" width="10.8" height="6" stroke-width="1.5"/>
<rect x="-10.6" y="-10.3" width="21.2" height="9.9" stroke-width="1.5"/>
<line x1="-4.85" y1="-10.3" x2="-4.85" y2="-0.4" stroke-width="1.3"/><line x1="6.35" y1="-10.3" x2="6.35" y2="-0.4" stroke-width="1.3"/>
</g>
<path d="M229.8,437.8 L245.2,443.6 L241.8,453.8 L225.8,444.3 Z" fill="#fff" stroke="#000" stroke-width="1.2" stroke-linejoin="round"/>
<path d="M225.8,444.3 L228.5,441 L233,449.5" fill="none" stroke="#000" stroke-width="0.9" />
<path d="M148.2,494.2 L150.8,499.3 L154.6,502.4 L157,520 L162,527" fill="none" stroke="#000" stroke-width="1.1" />
<path d="M162.3,464 L174.1,460.6 L174.1,462.7 L167.4,467.4 L164,466.4 Z" fill="#fff" stroke="#000" stroke-width="0.9" />
<path d="M174.3,470.5 L168.5,489" fill="none" stroke="#000" stroke-width="1.2" />
<path d="M157,501 L164.5,496.5 L168,503 L172,521" fill="none" stroke="#000" stroke-width="0.8" />
<path d="M166.8,496 L168.2,478 L177.5,452.5 L200,450.6" fill="none" stroke="#000" stroke-width="1.6" stroke-linejoin="round"/>
<circle cx="216.50" cy="498.30" r="49.00" fill="#fff" stroke="#000" stroke-width="2.2"/>
<circle cx="216.50" cy="498.30" r="38.10" fill="none" stroke="#000" stroke-width="2.0"/>
<line x1="160.00" y1="498.20" x2="208.90" y2="498.20" stroke="#222" stroke-width="0.6" />
<line x1="212.70" y1="498.20" x2="219.70" y2="498.20" stroke="#222" stroke-width="0.6" />
<line x1="224.20" y1="498.20" x2="275.00" y2="498.20" stroke="#222" stroke-width="0.6" />
<line x1="216.50" y1="416.30" x2="216.50" y2="491.80" stroke="#222" stroke-width="0.6" />
<line x1="216.50" y1="494.40" x2="216.50" y2="502.20" stroke="#222" stroke-width="0.6" />
<line x1="216.50" y1="504.80" x2="216.50" y2="560.00" stroke="#222" stroke-width="0.6" />
<path d="M184.09,484.28 L186.00,481.09 L191.09,477.91 L196.19,471.55 L203.82,465.18 L209.55,463.91 L212.99,466.46 L212.48,470.02 L208.91,472.18 L202.55,473.84 L197.46,475.62 L194.28,482.37 L191.09,488.35 L187.27,489.62 L184.47,487.84 Z" fill="none" stroke="#000" stroke-width="1.0" stroke-linejoin="round"/>
<path d="M189.82,509.99 L195.55,504.90 L196.19,500.82 L195.29,498.02 L197.46,493.19 L199.37,487.46 L202.55,483.26 L208.91,479.82 L215.28,478.93 L218.46,476.89 L222.92,478.68 L228.01,476.38 L233.10,474.09" fill="none" stroke="#000" stroke-width="1.0" stroke-linejoin="round"/>
<path d="M244.56,486.82 L243.54,493.19 L243.92,499.55 L242.65,502.35 L243.92,504.01 L241.76,505.66 L243.28,507.44 L240.74,509.10 L242.39,511.01 L239.46,512.54 L241.37,514.83 L237.55,516.10 L238.83,518.65 L235.01,519.28 L235.65,522.21 L231.83,521.45 L231.57,524.37 L228.64,523.48 L227.37,525.77 L224.83,524.76 L222.92,526.28 L220.37,525.26 L216.55,525.77 L210.19,524.76 L205.73,524.37 L201.28,523.74 L200.64,524.76 L200.64,532.65" fill="none" stroke="#000" stroke-width="1.0" stroke-linejoin="round"/>
<path d="M241.76,511.01 L241.76,524.37 L231.83,524.37" fill="none" stroke="#000" stroke-width="0.7" stroke-linejoin="round"/>
<path d="M233.10,474.09 L239.46,468.37" fill="none" stroke="#000" stroke-width="1.2" stroke-linejoin="round"/>
<path d="M238.19,479.19 L243.92,474.09" fill="none" stroke="#000" stroke-width="1.1" stroke-linejoin="round"/>
<path d="M243.28,485.55 L248.37,481.09" fill="none" stroke="#000" stroke-width="1.1" stroke-linejoin="round"/>
<path d="M244.81,469.26 L248.12,466.20 L253.72,474.09 L250.28,476.89 Z" fill="none" stroke="#000" stroke-width="1.0" stroke-linejoin="round"/>
<path d="M245.19,487.46 L251.56,487.46" fill="none" stroke="#000" stroke-width="0.8" stroke-linejoin="round"/>
<path d="M189.82,509.99 L184.09,514.83" fill="none" stroke="#000" stroke-width="1.2" stroke-linejoin="round"/>
<path d="M194.28,515.08 L188.55,520.17" fill="none" stroke="#000" stroke-width="1.1" stroke-linejoin="round"/>
<path d="M199.37,523.10 L194.28,527.56" fill="none" stroke="#000" stroke-width="1.1" stroke-linejoin="round"/>
<path d="M179.89,521.19 L183.20,518.65 L189.18,527.56 L185.75,530.36 Z" fill="none" stroke="#000" stroke-width="1.0" stroke-linejoin="round"/>
<path d="M249,459.2 L269.5,463.2 L274.6,472.6" fill="none" stroke="#000" stroke-width="1.5" stroke-linejoin="round"/>
<path d="M258.9,462.8 A4.2,4.2 0 0 0 267.3,462.8 Z" fill="none" stroke="#000" stroke-width="0.8" />
<path d="M266.7,476 L269.3,481.5 L267.2,482.5 L264.6,477 Z" fill="none" stroke="#000" stroke-width="0.8" />
<path d="M264.55,476.91 A52.6,52.6 0 0 1 263.37,522.18" fill="none" stroke="#000" stroke-width="0.8" />
<polygon points="273.41,472.96 273.85,473.96 274.26,474.96 274.66,475.97 275.04,476.99 275.41,478.02 275.75,479.05 276.08,480.09 276.39,481.13 276.68,482.18 276.95,483.23 277.20,484.29 277.44,485.35 277.66,486.41 277.85,487.48 278.03,488.55 278.19,489.63 278.34,490.71 278.46,491.79 278.56,492.87 278.65,493.95 278.71,495.04 278.76,496.13 278.79,497.21 278.80,498.30 278.79,499.39 278.76,500.47 278.71,501.56 278.65,502.65 278.56,503.73 278.46,504.81 278.34,505.89 278.19,506.97 278.03,508.05 277.85,509.12 277.66,510.19 277.44,511.25 277.20,512.31 276.95,513.37 276.68,514.42 276.39,515.47 276.08,516.51 275.75,517.55 275.41,518.58 275.04,519.61 274.66,520.63 274.26,521.64 273.85,522.64 273.41,523.64 272.96,524.63 272.49,525.61 265.03,521.97 265.44,521.12 265.83,520.26 266.21,519.40 266.57,518.53 266.91,517.65 267.24,516.77 267.56,515.88 267.86,514.99 268.14,514.09 268.41,513.18 268.66,512.28 268.90,511.36 269.12,510.45 269.32,509.53 269.51,508.60 269.68,507.68 269.84,506.75 269.97,505.82 270.10,504.88 270.20,503.94 270.29,503.01 270.37,502.07 270.43,501.13 270.47,500.18 270.49,499.24 270.50,498.30 270.49,497.36 270.47,496.42 270.43,495.47 270.37,494.53 270.29,493.59 270.20,492.66 270.10,491.72 269.97,490.78 269.84,489.85 269.68,488.92 269.51,488.00 269.32,487.07 269.12,486.15 268.90,485.24 268.66,484.32 268.41,483.42 268.14,482.51 267.86,481.61 267.56,480.72 267.24,479.83 266.91,478.95 266.57,478.07 266.21,477.20 265.83,476.34" fill="#3a3a3a" stroke="#000" stroke-width="0.7"/>
<polygon points="159.86,523.52 159.43,522.53 159.01,521.53 158.62,520.52 158.24,519.51 157.88,518.49 163.55,516.53 163.88,517.45 164.22,518.37 164.58,519.28 164.95,520.18 165.34,521.08" fill="#3a3a3a" stroke="#000" stroke-width="0.7"/>
<line x1="278.34" y1="479.98" x2="284.10" y2="478.28" stroke="#000" stroke-width="1.3" />
<line x1="279.81" y1="485.99" x2="285.70" y2="484.85" stroke="#000" stroke-width="1.3" />
<line x1="280.70" y1="492.12" x2="286.68" y2="491.54" stroke="#000" stroke-width="1.3" />
<line x1="280.75" y1="503.92" x2="286.73" y2="504.44" stroke="#000" stroke-width="1.3" />
<line x1="280.02" y1="509.50" x2="285.93" y2="510.54" stroke="#000" stroke-width="1.3" />
<line x1="278.95" y1="514.45" x2="284.75" y2="515.95" stroke="#000" stroke-width="1.3" />
<line x1="277.38" y1="519.62" x2="283.04" y2="521.60" stroke="#000" stroke-width="1.3" />
<line x1="275.42" y1="524.53" x2="280.90" y2="526.97" stroke="#000" stroke-width="1.3" />
<line x1="274.91" y1="474.70" x2="287.43" y2="469.64" stroke="#000" stroke-width="1.3" />
<line x1="280.50" y1="498.30" x2="292.10" y2="498.30" stroke="#000" stroke-width="1.0" />
<line x1="151.67" y1="503.06" x2="146.49" y2="503.44" stroke="#000" stroke-width="1.3" />
<line x1="152.30" y1="508.47" x2="147.16" y2="509.28" stroke="#000" stroke-width="1.3" />
<line x1="153.43" y1="514.02" x2="148.39" y2="515.28" stroke="#000" stroke-width="1.3" />
<line x1="155.04" y1="519.46" x2="150.12" y2="521.15" stroke="#000" stroke-width="1.3" />
<line x1="157.12" y1="524.74" x2="152.37" y2="526.85" stroke="#000" stroke-width="1.3" />
<line x1="150.50" y1="498.30" x2="141.00" y2="498.30" stroke="#000" stroke-width="1.3" />
<circle cx="260.24" cy="529.62" r="5.70" fill="#fff" stroke="#000" stroke-width="1.1"/>
<circle cx="260.24" cy="529.62" r="4.40" fill="none" stroke="#000" stroke-width="0.6"/>
<line x1="257.64" y1="528.42" x2="262.84" y2="530.82" stroke="#000" stroke-width="1.0" />
<line x1="259.04" y1="532.22" x2="261.44" y2="527.02" stroke="#000" stroke-width="1.0" />
<circle cx="172.76" cy="529.62" r="5.70" fill="#fff" stroke="#000" stroke-width="1.1"/>
<circle cx="172.76" cy="529.62" r="4.40" fill="none" stroke="#000" stroke-width="0.6"/>
<line x1="170.16" y1="528.42" x2="175.36" y2="530.82" stroke="#000" stroke-width="1.0" />
<line x1="171.56" y1="532.22" x2="173.96" y2="527.02" stroke="#000" stroke-width="1.0" />
<path d="M254.22,534.09 L260.02,539.60 L265.36,536.47" fill="none" stroke="#000" stroke-width="1.0" />
<path d="M178.78,534.09 L172.98,539.60 L167.64,536.47" fill="none" stroke="#000" stroke-width="1.0" />
<line x1="181.26" y1="541.82" x2="174.90" y2="542.91" stroke="#000" stroke-width="2.2" />
<line x1="251.74" y1="541.82" x2="258.10" y2="542.91" stroke="#000" stroke-width="1.2" />
<ellipse cx="190" cy="547.5" rx="2.6" ry="5" fill="none" stroke="#000" stroke-width="0.9" transform="rotate(8 190 547.5)" opacity="0"/>
<line x1="21.00" y1="364.80" x2="101.60" y2="364.80" stroke="#222" stroke-width="0.6" />
<line x1="101.50" y1="364.80" x2="207.00" y2="491.00" stroke="#222" stroke-width="0.6" />
<circle cx="207.00" cy="491.00" r="0.80" fill="#000" stroke="#000" stroke-width="0.5"/>
<text x="190.50" y="554.00" font-size="16" text-anchor="middle" fill="#333">0</text>
<text x="243.00" y="554.00" font-size="16" text-anchor="middle" fill="#333">1</text>
<g transform="translate(554.30 368.60)" font-size="14"><text x="0" y="0" fill="#262626" textLength="56.31" lengthAdjust="spacingAndGlyphs">50,65mm</text><text x="61.21" y="0.6" fill="#555" font-size="15">[</text><text x="66.91" y="0" fill="#262626" textLength="36.23" lengthAdjust="spacingAndGlyphs">1,99in</text><text x="105.84" y="0.6" fill="#555" font-size="15">]</text></g>
<line x1="450.40" y1="371.30" x2="673.00" y2="371.30" stroke="#222" stroke-width="0.6" />
<polygon points="450.40,371.30 462.40,369.60 462.40,373.00" fill="#000"/>
<polygon points="551.60,371.30 539.60,369.60 539.60,373.00" fill="#000"/>
<g transform="translate(554.30 393.00)" font-size="14"><text x="0" y="0" fill="#262626" textLength="56.31" lengthAdjust="spacingAndGlyphs">24,75mm</text><text x="61.21" y="0.6" fill="#555" font-size="15">[</text><text x="66.91" y="0" fill="#262626" textLength="36.23" lengthAdjust="spacingAndGlyphs">0,97in</text><text x="105.84" y="0.6" fill="#555" font-size="15">]</text></g>
<line x1="450.40" y1="395.60" x2="673.00" y2="395.60" stroke="#222" stroke-width="0.6" />
<polygon points="450.40,395.60 462.40,393.90 462.40,397.30" fill="#000"/>
<polygon points="500.40,395.60 488.40,393.90 488.40,397.30" fill="#000"/>
<line x1="450.40" y1="366.60" x2="450.40" y2="895.00" stroke="#222" stroke-width="0.6" />
<line x1="551.60" y1="366.60" x2="551.60" y2="449.00" stroke="#222" stroke-width="0.6" />
<line x1="500.40" y1="391.00" x2="500.40" y2="441.00" stroke="#222" stroke-width="0.6" />
<line x1="570.60" y1="806.00" x2="570.60" y2="895.00" stroke="#000" stroke-width="0.9" />
<line x1="450.40" y1="806.00" x2="450.40" y2="895.00" stroke="#000" stroke-width="0.9" />
<g transform="translate(338.40 887.50)" font-size="14"><text x="0" y="0" fill="#262626" textLength="48.80" lengthAdjust="spacingAndGlyphs">0,25mm</text><text x="53.70" y="0.6" fill="#555" font-size="15">[</text><text x="59.40" y="0" fill="#262626" textLength="36.23" lengthAdjust="spacingAndGlyphs">0,01in</text><text x="98.33" y="0.6" fill="#555" font-size="15">]</text></g>
<g transform="translate(467.60 887.50)" font-size="14"><text x="0" y="0" fill="#262626" textLength="37.53" lengthAdjust="spacingAndGlyphs">60mm</text><text x="42.43" y="0.6" fill="#555" font-size="15">[</text><text x="48.13" y="0" fill="#262626" textLength="36.23" lengthAdjust="spacingAndGlyphs">2,36in</text><text x="87.06" y="0.6" fill="#555" font-size="15">]</text></g>
<g transform="translate(590.40 887.50)" font-size="14"><text x="0" y="0" fill="#262626" textLength="48.80" lengthAdjust="spacingAndGlyphs">0,25mm</text><text x="53.70" y="0.6" fill="#555" font-size="15">[</text><text x="59.40" y="0" fill="#262626" textLength="36.23" lengthAdjust="spacingAndGlyphs">0,01in</text><text x="98.33" y="0.6" fill="#555" font-size="15">]</text></g>
<line x1="332.30" y1="890.50" x2="693.00" y2="890.50" stroke="#222" stroke-width="0.6" />
<polygon points="450.40,890.50 462.40,888.80 462.40,892.20" fill="#000"/>
<polygon points="570.60,890.50 558.60,888.80 558.60,892.20" fill="#000"/>
<polygon points="450.40,890.50 438.40,888.80 438.40,892.20" fill="#000"/>
<polygon points="570.60,890.50 582.60,888.80 582.60,892.20" fill="#000"/>
<path d="M450.8,806 L450.8,447 Q450.8,443 455,442.7 L495,439.7 Q500.6,439.7 500.6,445 L500.6,536" fill="none" stroke="#000" stroke-width="1.1" />
<path d="M451,459.5 Q451.5,455.6 455.5,455.2 L495,452.9 Q500,452.9 500.4,457.5" fill="none" stroke="#000" stroke-width="0.9" />
<line x1="455.30" y1="443.00" x2="455.30" y2="806.00" stroke="#000" stroke-width="1.0" />
<line x1="487.60" y1="440.50" x2="487.60" y2="806.00" stroke="#000" stroke-width="1.0" />
<line x1="495.70" y1="440.00" x2="495.70" y2="539.00" stroke="#000" stroke-width="0.8" />
<line x1="450.80" y1="481.20" x2="500.60" y2="481.20" stroke="#000" stroke-width="0.9" />
<line x1="450.80" y1="777.90" x2="570.50" y2="777.90" stroke="#000" stroke-width="0.9" />
<path d="M495.8,539.3 L501.5,534.2 L552.5,534.2" fill="none" stroke="#000" stroke-width="1.0" />
<path d="M495.8,539.3 L534.6,539.3 L566.5,541.6" fill="none" stroke="#000" stroke-width="1.0" />
<path d="M534.6,534.8 L566.5,537.4 Q570.5,537.8 570.5,542 L570.5,806" fill="none" stroke="#000" stroke-width="1.1" />
<line x1="566.70" y1="538.00" x2="566.70" y2="806.00" stroke="#000" stroke-width="0.7" />
<line x1="534.40" y1="492.00" x2="534.40" y2="806.00" stroke="#000" stroke-width="1.0" />
<path d="M501.8,536 L501.8,430.5 Q501.8,425.3 507,425.3 L537,425.3 Q542.2,425.3 542.2,430.5 L542.2,534" fill="#fff" stroke="#000" stroke-width="1.2" />
<line x1="508.60" y1="426.00" x2="508.60" y2="490.00" stroke="#000" stroke-width="0.7" />
<line x1="535.70" y1="426.00" x2="535.70" y2="490.00" stroke="#000" stroke-width="0.7" />
<path d="M502.8,494 Q502.8,490.3 506.5,490.3 L537.5,490.3 Q541,490.3 541,494" fill="none" stroke="#000" stroke-width="1.3" />
<line x1="504.00" y1="492.90" x2="540.00" y2="492.90" stroke="#000" stroke-width="0.7" />
<ellipse cx="522.5" cy="437.8" rx="13.9" ry="6.6" fill="#fff" stroke="#000" stroke-width="1.1"/>
<ellipse cx="522.5" cy="437.2" rx="12.6" ry="5.6" fill="none" stroke="#000" stroke-width="0.7"/>
<path d="M513,430.5 L513.8,438.0 L522.7,440.6 L532.2,438.0 L533,430.5 Z" fill="#fff" stroke="#000" stroke-width="1.1" stroke-linejoin="round"/>
<line x1="522.70" y1="433.50" x2="522.70" y2="440.60" stroke="#000" stroke-width="1.0" />
<path d="M513,430.5 L522.7,433.5 L533,430.5" fill="none" stroke="#000" stroke-width="0.9" />
<path d="M513,430.5 Q513.5,426.0 517,425.0 L528.5,425.0 Q532.5,426.0 533,430.5" fill="#fff" stroke="#000" stroke-width="1.0" />
<path d="M516.8,425.0 L516.8,422.5 Q517,418.3 522.7,418.3 Q528.4,418.3 528.6,422.5 L528.6,425.0" fill="#fff" stroke="#000" stroke-width="1.1" />
<ellipse cx="522.7" cy="424.5" rx="5.9" ry="2" fill="none" stroke="#000" stroke-width="0.8"/>
<ellipse cx="522.7" cy="421.4" rx="3.6" ry="1.5" fill="none" stroke="#bbb" stroke-width="0.6"/>
<ellipse cx="522.5" cy="481.8" rx="13.9" ry="6.6" fill="#fff" stroke="#000" stroke-width="1.1"/>
<ellipse cx="522.5" cy="481.2" rx="12.6" ry="5.6" fill="none" stroke="#000" stroke-width="0.7"/>
<path d="M513,474.5 L513.8,482.0 L522.7,484.6 L532.2,482.0 L533,474.5 Z" fill="#fff" stroke="#000" stroke-width="1.1" stroke-linejoin="round"/>
<line x1="522.70" y1="477.50" x2="522.70" y2="484.60" stroke="#000" stroke-width="1.0" />
<path d="M513,474.5 L522.7,477.5 L533,474.5" fill="none" stroke="#000" stroke-width="0.9" />
<path d="M513,474.5 Q513.5,470.0 517,469.0 L528.5,469.0 Q532.5,470.0 533,474.5" fill="#fff" stroke="#000" stroke-width="1.0" />
<path d="M516.8,469.0 L516.8,466.5 Q517,462.3 522.7,462.3 Q528.4,462.3 528.6,466.5 L528.6,469.0" fill="#fff" stroke="#000" stroke-width="1.1" />
<ellipse cx="522.7" cy="468.5" rx="5.9" ry="2" fill="none" stroke="#000" stroke-width="0.8"/>
<ellipse cx="522.7" cy="465.4" rx="3.6" ry="1.5" fill="none" stroke="#bbb" stroke-width="0.6"/>
<rect x="542.30" y="448.50" width="9.60" height="86.00" rx="0" fill="#111" stroke="#000" stroke-width="0.1"/>
<rect x="545.30" y="450.40" width="3.70" height="32.00" rx="0" fill="#777" stroke="#000" stroke-width="0.1"/>
<line x1="544.40" y1="450.20" x2="550.00" y2="450.20" stroke="#ddd" stroke-width="0.8" />
<line x1="544.50" y1="483.60" x2="550.20" y2="483.60" stroke="#fff" stroke-width="1.5" />
<line x1="544.50" y1="487.33" x2="550.20" y2="487.33" stroke="#fff" stroke-width="1.5" />
<line x1="544.50" y1="491.06" x2="550.20" y2="491.06" stroke="#fff" stroke-width="1.5" />
<line x1="544.50" y1="494.79" x2="550.20" y2="494.79" stroke="#fff" stroke-width="1.5" />
<line x1="544.50" y1="498.52" x2="550.20" y2="498.52" stroke="#fff" stroke-width="1.5" />
<line x1="544.50" y1="502.25" x2="550.20" y2="502.25" stroke="#fff" stroke-width="1.5" />
<line x1="544.50" y1="505.98" x2="550.20" y2="505.98" stroke="#fff" stroke-width="1.5" />
<line x1="544.50" y1="509.71" x2="550.20" y2="509.71" stroke="#fff" stroke-width="1.5" />
<line x1="544.50" y1="513.44" x2="550.20" y2="513.44" stroke="#fff" stroke-width="1.5" />
<line x1="544.50" y1="517.17" x2="550.20" y2="517.17" stroke="#fff" stroke-width="1.5" />
<line x1="544.50" y1="520.90" x2="550.20" y2="520.90" stroke="#fff" stroke-width="1.5" />
<line x1="544.50" y1="524.63" x2="550.20" y2="524.63" stroke="#fff" stroke-width="1.5" />
<line x1="544.50" y1="528.36" x2="550.20" y2="528.36" stroke="#fff" stroke-width="1.5" />
<line x1="544.50" y1="532.09" x2="550.20" y2="532.09" stroke="#fff" stroke-width="1.5" />
<line x1="507.90" y1="493.00" x2="507.90" y2="534.00" stroke="#000" stroke-width="0.9" />
<line x1="515.50" y1="493.00" x2="515.50" y2="534.00" stroke="#000" stroke-width="0.8" />
<line x1="517.50" y1="493.00" x2="517.50" y2="534.00" stroke="#000" stroke-width="0.8" />
<line x1="529.00" y1="493.00" x2="529.00" y2="534.00" stroke="#000" stroke-width="0.8" />
<line x1="532.70" y1="493.00" x2="532.70" y2="534.00" stroke="#000" stroke-width="0.8" />
<line x1="536.50" y1="493.00" x2="536.50" y2="534.00" stroke="#000" stroke-width="0.8" />
<line x1="511.00" y1="494.00" x2="511.00" y2="521.00" stroke="#000" stroke-width="1.4" stroke-dasharray="1.3 1.5"/>
<path d="M517.5,496 L529,496 M517.5,499 L529,499 M529,503 L532.7,503 M529,507.5 L532.7,507.5 M517.5,512 Q523,509.5 529,512 M517.5,521 Q523,518.5 529,521 M517.5,527 Q523,530 529,527 M519,531.5 Q523,533.5 527.5,531.5" fill="none" stroke="#000" stroke-width="0.8" />
<path d="M502,503 L507.9,503 M502,517 L507.9,517 M502,521 L511,521 M502,526 L507.9,526 M511,521 L511,534 M536.5,500 L541,500 M536.5,504 L541,504 M532.7,521 L536.5,521" fill="none" stroke="#000" stroke-width="0.8" />
<rect x="502.60" y="518.00" width="4.80" height="2.40" rx="0" fill="#333" stroke="#000" stroke-width="0.1"/>
<rect x="570.50" y="567.00" width="2.70" height="39.50" rx="0" fill="#777" stroke="#000" stroke-width="0.9"/>
<line x1="449.70" y1="728.00" x2="449.70" y2="752.00" stroke="#000" stroke-width="1.4" />
<path d="M450.8,803.9 L570.5,803.9" fill="none" stroke="#000" stroke-width="0.9" />
<path d="M450.8,803.9 Q450.6,809 455,809.2 L566.5,809.2 Q570.8,809 570.6,803.9" fill="none" stroke="#000" stroke-width="0.8" />
<path d="M452.5,806.4 L569,806.4" fill="none" stroke="#000" stroke-width="0.6" />
<rect x="452.2" y="808.4" width="47.2" height="3.4" rx="1.7" fill="#fff" stroke="#000" stroke-width="1.5"/>
<path d="M458.8,812 Q461,818.4 468,818.4 L486,818.4 Q492.5,818.4 494.5,812" fill="none" stroke="#000" stroke-width="1.0" />
<path d="M462,814.6 L491.5,814.6" fill="none" stroke="#000" stroke-width="0.6" />
<path d="M515.2,811.2 Q540,805.6 566.5,810.2 L566.5,821 Q566.5,822.8 564.7,822.8 L517,822.8 Q515.2,822.8 515.2,821 Z" fill="#fff" stroke="#000" stroke-width="1.5" />
<line x1="516.00" y1="822.80" x2="565.70" y2="822.80" stroke="#000" stroke-width="1.8" />
<path d="M499.4,811.8 L515.2,811.8" fill="none" stroke="#000" stroke-width="0.7" />
<path d="M470.7,818.4 L470.7,852.2 L481.6,850.2 L481.6,818.4" fill="none" stroke="#000" stroke-width="0.9" />
</svg>
</body>
</html>
